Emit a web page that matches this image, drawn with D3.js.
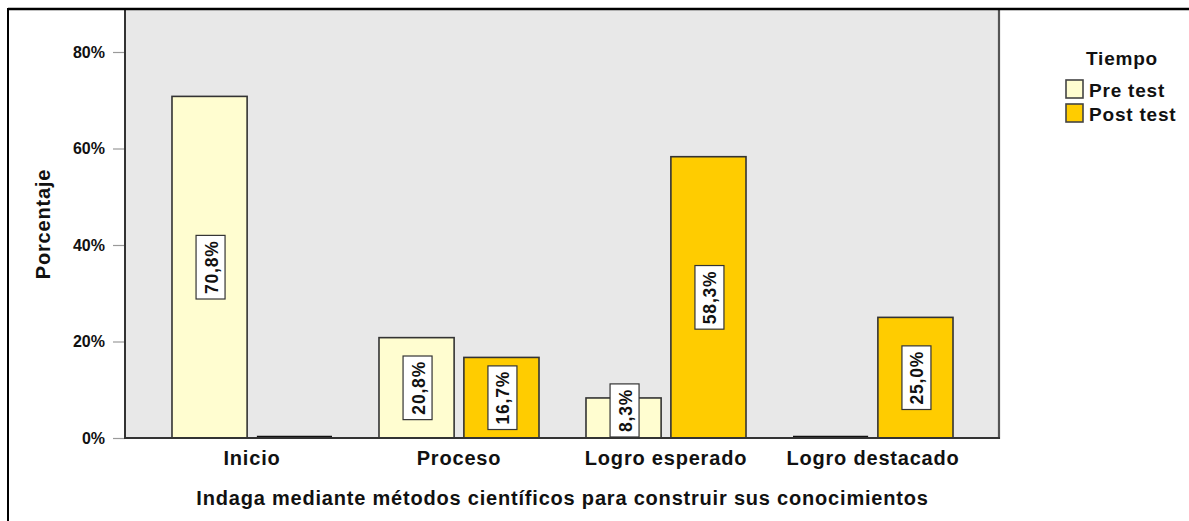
<!DOCTYPE html>
<html>
<head>
<meta charset="utf-8">
<script src="https://cdn.jsdelivr.net/npm/d3@7"></script>
<style>
  html, body { margin: 0; padding: 0; background: #fff; }
  svg { display: block; }
  text { font-family: "Liberation Sans", Arial, sans-serif; font-weight: bold; fill: #111; }
</style>
</head>
<body>
<svg id="chart" width="1189" height="521"></svg>
<script>
// Categories of the x axis and the two series (percent of students)
const categories = ["Inicio", "Proceso", "Logro esperado", "Logro destacado"];
const seriesNames = ["Pre test", "Post test"];
const preTest = [70.8, 20.8, 8.3, 0];
const postTest = [0, 16.7, 58.3, 25.0];
const yTicks = [0, 20, 40, 60, 80];

const xTitle = "Indaga mediante métodos científicos para construir sus conocimientos";
const yTitle = "Porcentaje";
const legendTitle = "Tiempo";

const colors = { "Pre test": "#fffdd0", "Post test": "#ffcc00" };

const rows = categories.map((c, i) => ({
  category: c,
  values: [
    { series: "Pre test", value: preTest[i] },
    { series: "Post test", value: postTest[i] }
  ]
}));

const svg = d3.select("#chart");
const W = 1189, H = 521;

// Plot area
const plotLeft = 125, plotRight = 1000, plotTop = 10, plotBottom = 438;

const x0 = d3.scaleBand().domain(categories).range([plotLeft, plotRight]).padding(0.227);
const x1 = d3.scaleBand().domain(seriesNames).range([0, x0.bandwidth()]).paddingInner(0.115);
const y = d3.scaleLinear().domain([0, 80]).range([plotBottom, 52]);

const locale = d3.formatLocale({ decimal: ",", thousands: ".", grouping: [3], currency: ["", ""] });
const fmtLabel = v => locale.format(".1f")(v) + "%";
const fmtTick = v => locale.format("d")(v) + "%";

// Plot background
svg.append("rect")
  .attr("x", plotLeft).attr("y", plotTop)
  .attr("width", plotRight - plotLeft).attr("height", plotBottom - plotTop)
  .attr("fill", "#e8e8e8");

// Y axis
const yAxis = d3.axisLeft(y).tickValues(yTicks).tickFormat(fmtTick).tickSize(12).tickPadding(8);
const gy = svg.append("g").attr("transform", `translate(${plotLeft},0)`).call(yAxis);
gy.select(".domain").remove();
gy.selectAll(".tick line").attr("stroke", "#9a9a9a").attr("stroke-width", 1.2);
gy.selectAll(".tick text")
  .attr("font-size", 16).attr("font-family", "Liberation Sans, Arial, sans-serif")
  .attr("font-weight", "bold").attr("fill", "#111");

// Bars
const groups = svg.append("g").selectAll("g")
  .data(rows).join("g")
  .attr("transform", d => `translate(${x0(d.category)},0)`);

groups.selectAll("rect")
  .data(d => d.values.filter(v => v.value > 0)).join("rect")
  .attr("x", d => x1(d.series))
  .attr("y", d => y(d.value))
  .attr("width", x1.bandwidth())
  .attr("height", d => y(0) - y(d.value))
  .attr("fill", d => colors[d.series])
  .attr("stroke", "#333")
  .attr("stroke-width", 1.6);

// Zero-valued bars collapse to a thick line on the baseline
groups.selectAll("line.zero")
  .data(d => d.values.filter(v => v.value === 0)).join("line")
  .attr("class", "zero")
  .attr("x1", d => x1(d.series))
  .attr("x2", d => x1(d.series) + x1.bandwidth())
  .attr("y1", d => y(d.value) - 1)
  .attr("y2", d => y(d.value) - 1)
  .attr("stroke", "#111")
  .attr("stroke-width", 2.5);

// Plot frame lines
svg.append("line").attr("x1", plotLeft).attr("x2", plotLeft).attr("y1", plotTop).attr("y2", plotBottom + 1)
  .attr("stroke", "#333").attr("stroke-width", 2);
svg.append("line").attr("x1", plotRight - 1).attr("x2", plotRight - 1).attr("y1", plotTop).attr("y2", plotBottom + 1)
  .attr("stroke", "#555").attr("stroke-width", 2.2);
svg.append("line").attr("x1", plotLeft).attr("x2", plotRight).attr("y1", plotBottom).attr("y2", plotBottom)
  .attr("stroke", "#333").attr("stroke-width", 2);

// Value labels: rotated text in a white box, centred in each bar
const labelG = svg.append("g");
rows.forEach(r => {
  r.values.forEach(v => {
    if (v.value <= 0) return;
    const cx = x0(r.category) + x1(v.series) + x1.bandwidth() / 2 + 1;
    const g = labelG.append("g");
    const t = g.append("text")
      .attr("text-anchor", "middle")
      .attr("dominant-baseline", "central")
      .attr("font-size", 17.5)
      .attr("letter-spacing", 0.8)
      .text(fmtLabel(v.value));
    const len = t.node().getComputedTextLength();
    const boxH = len + 10, boxW = 29;
    let cy = (y(v.value) + y(0)) / 2;
    cy = Math.min(cy, y(0) - boxH / 2 - 1);
    g.insert("rect", "text")
      .attr("x", -boxH / 2).attr("y", -boxW / 2)
      .attr("width", boxH).attr("height", boxW)
      .attr("fill", "#fff").attr("stroke", "#333").attr("stroke-width", 1.2);
    t.attr("x", 0).attr("y", 1);
    g.attr("transform", `translate(${cx},${cy}) rotate(-90)`);
  });
});

// X axis labels
const xAxis = d3.axisBottom(x0).tickSize(0).tickPadding(12);
const gx = svg.append("g").attr("transform", `translate(0,${plotBottom})`).call(xAxis);
gx.select(".domain").remove();
gx.selectAll(".tick text")
  .attr("font-size", 20).attr("letter-spacing", 0.8)
  .attr("font-family", "Liberation Sans, Arial, sans-serif")
  .attr("font-weight", "bold").attr("fill", "#111")
  .attr("dy", null).attr("y", 27);

// Axis titles
svg.append("text")
  .attr("x", (plotLeft + plotRight) / 2).attr("y", 505)
  .attr("text-anchor", "middle")
  .attr("font-size", 20).attr("letter-spacing", 0.8)
  .text(xTitle);

svg.append("text")
  .attr("transform", `translate(50,${(plotTop + plotBottom) / 2}) rotate(-90)`)
  .attr("text-anchor", "middle")
  .attr("font-size", 20).attr("letter-spacing", 0.8)
  .text(yTitle);

// Legend
const legend = svg.append("g");
legend.append("text")
  .attr("x", 1122).attr("y", 65)
  .attr("text-anchor", "middle")
  .attr("font-size", 19).attr("letter-spacing", 0.8)
  .text(legendTitle);

const items = legend.selectAll("g.item")
  .data(seriesNames).join("g")
  .attr("class", "item")
  .attr("transform", (d, i) => `translate(1066,${80 + i * 24})`);
items.append("rect")
  .attr("width", 17).attr("height", 18)
  .attr("fill", d => colors[d])
  .attr("stroke", "#444").attr("stroke-width", 1.6);
items.append("text")
  .attr("x", 23).attr("y", 16.5)
  .attr("font-size", 19).attr("letter-spacing", 0.8)
  .text(d => d);

// Outer frame (top and left edges)
svg.append("line").attr("x1", 8).attr("x2", W).attr("y1", 9).attr("y2", 9)
  .attr("stroke", "#000").attr("stroke-width", 2.5);
svg.append("line").attr("x1", 8).attr("x2", 8).attr("y1", 8).attr("y2", H)
  .attr("stroke", "#000").attr("stroke-width", 2);
</script>
</body>
</html>
